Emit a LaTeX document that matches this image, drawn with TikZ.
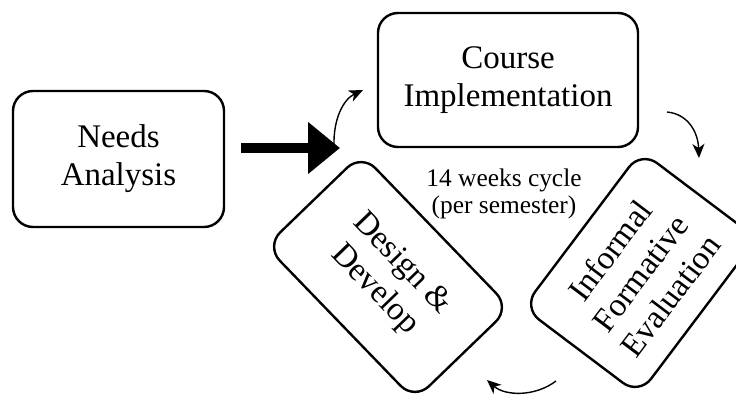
\documentclass[tikz,border=0pt]{standalone}
\usepackage{fontspec}
\setmainfont{Liberation Serif}
\newfontfamily\stagefont{Liberation Serif}
\usetikzlibrary{arrows.meta,calc}
\begin{document}
\begin{tikzpicture}[x=1pt,y=-1pt,
  stage/.style={draw,line width=2.4pt,rounded corners=20pt,align=center,
    font=\stagefont\fontsize{33}{38}\selectfont,inner sep=0pt},
  cyc/.style={line width=1.4pt,-{Stealth[length=14pt,width=12pt,inset=4pt]}},
  bigarrow/.style={line width=10pt,-{Triangle[length=32pt 0 0,width=50pt 0 0]}},
]
\useasboundingbox (0,0) rectangle (736,398);
\clip (0,0) rectangle (736,398);

% stages of the course development process
\node[stage,minimum width=211pt,minimum height=136pt] (needs) at (118.5,159) {Needs\\Analysis};
\node[stage,minimum width=260pt,minimum height=134pt] (impl) at (508,80) {Course\\Implementation};
\node[stage,minimum width=214pt,minimum height=133pt,rotate=-46] (design) at (388,277) {Design \&\\Develop};
\node[stage,minimum width=196pt,minimum height=145pt,rotate=53] (eval) at (640,273) {Informal\\Formative\\Evaluation};

% label in the middle of the cycle
\node[font=\stagefont\fontsize{25.4}{26.5}\selectfont,align=center] (cycle) at (504,194) {14 weeks cycle\\(per semester)};

% entry into the cycle
\coordinate (entry) at ($(needs.east)+(16,-11)$);
\coordinate (entrytip) at (340,148);
\draw[bigarrow] (entry) -- (entrytip);

% cycle arrows
\coordinate (c1s) at (334,147);
\coordinate (c1e) at (363,90);
\draw[cyc] (c1s) .. controls (333,118) and (344,99) .. (c1e);

\coordinate (c2s) at (667,112);
\coordinate (c2e) at (699,158);
\draw[cyc] (c2s) .. controls (688,114) and (698,132) .. (c2e);

\coordinate (c3s) at (556,381);
\coordinate (c3e) at (487,380);
\draw[cyc] (c3s) .. controls (535,397) and (505,396) .. (c3e);
\end{tikzpicture}
\end{document}
